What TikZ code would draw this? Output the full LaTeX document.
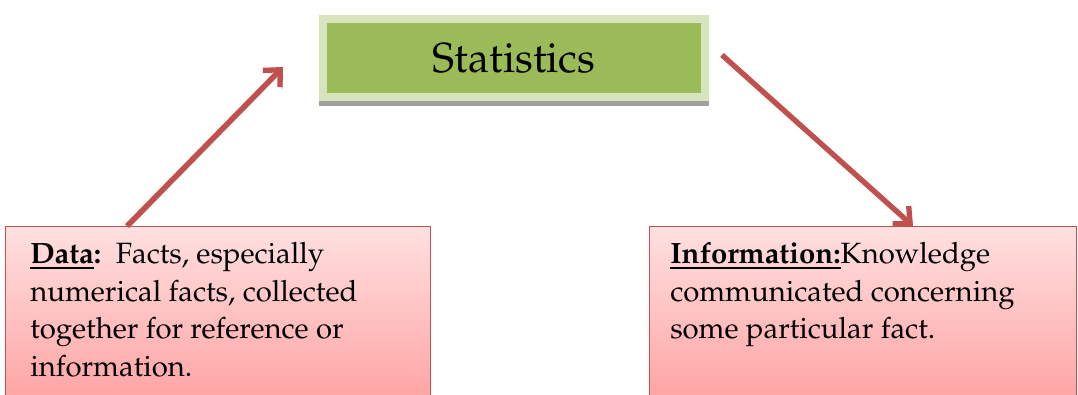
\documentclass[tikz,border=0pt]{standalone}
\usepackage[T1]{fontenc}
\usepackage{mathpazo}
\usepackage{xcolor}
\usetikzlibrary{arrows.meta,positioning}
\definecolor{statgreen}{HTML}{9BBB59}
\definecolor{statrim}{HTML}{D7E4BD}
\definecolor{factred}{HTML}{C0504D}
\definecolor{facttop}{HTML}{FFE0E0}
\definecolor{factbottom}{HTML}{FFA3A3}
\definecolor{shadowgray}{HTML}{A0A0A0}

\begin{document}
\begin{tikzpicture}[
    x=0.75pt, y=-0.75pt,
    titlebox/.style={draw=statrim, line width=6pt, fill=statgreen, minimum width=286.5pt, minimum height=58.5pt, font=\fontsize{31.5}{36}\selectfont},
    factbox/.style={draw=factred, line width=1pt, top color=facttop, bottom color=factbottom, minimum height=131pt, anchor=north west},
    facttext/.style={align=left, inner sep=0pt, anchor=north west, font=\fontsize{22}{28.2}\selectfont},
    redarrow/.style={draw=factred, line width=4pt, -{Straight Barb[length=9.5pt,width=18pt]},
        preaction={draw=shadowgray, transform canvas={shift={(1.5pt,-1.5pt)}}}}
]
\useasboundingbox (0,0) rectangle (1078,394);
\clip (0,0) rectangle (1078,394);

\node[titlebox] (stat) at (514,58) {Statistics};
\fill[shadowgray] (stat.south west) rectangle ([yshift=-3.5pt]stat.south east);

\node[factbox, minimum width=318.75pt] (datapanel) at (5,226) {};
\node[factbox, minimum width=320.25pt] (infopanel) at (649,226) {};

\node[facttext] (datatext) at ([shift={(18.75pt,-12pt)}]datapanel.north west)
    {\underline{\textbf{Data}}\textbf{:}\ \ Facts, especially\\numerical facts, collected\\together for reference or\\information.};
\node[facttext] (infotext) at ([shift={(15.75pt,-12pt)}]infopanel.north west)
    {\underline{\textbf{Information:}}Knowledge\\communicated concerning\\some particular fact.};

\coordinate (datahead) at (283,67);
\coordinate (infotail) at (722,55);
\draw[redarrow] ([xshift=91.5pt]datapanel.north west) -- (datahead);
\draw[redarrow] (infotail) -- ([xshift=198pt]infopanel.north west);
\end{tikzpicture}
\end{document}
